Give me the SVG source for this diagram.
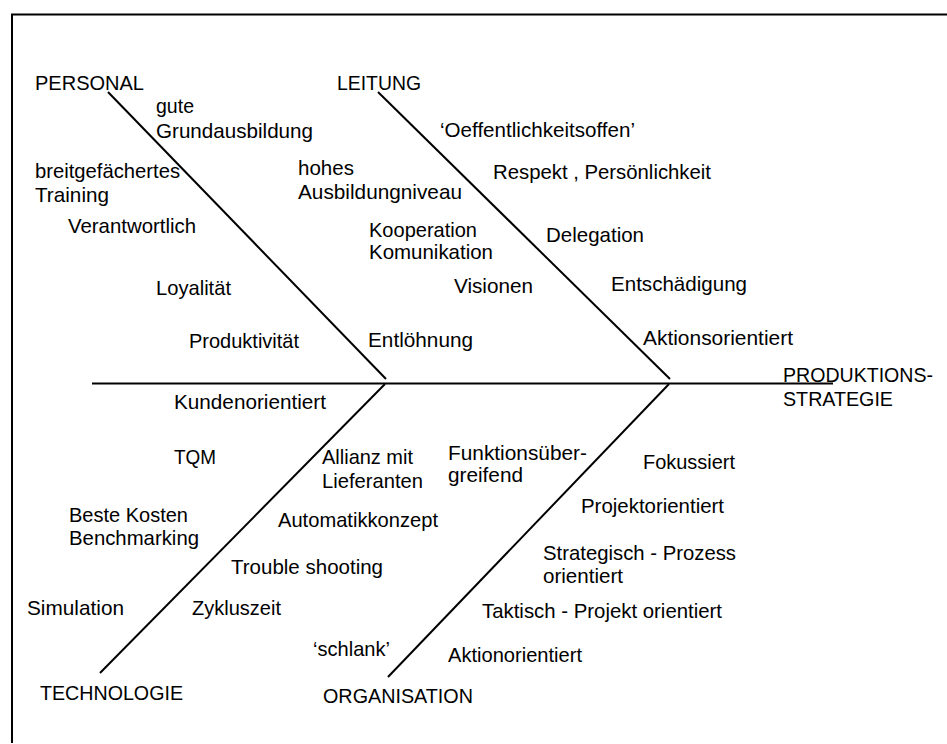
<svg xmlns="http://www.w3.org/2000/svg" width="947" height="744" viewBox="0 0 947 744">
<style>
text{font-family:"Liberation Sans",Arial,Helvetica,sans-serif;font-size:21px;fill:#000}
.ln{stroke:#000;stroke-width:2;fill:none;stroke-linecap:butt}
.fr{stroke:#000;stroke-width:2;fill:none}
</style>
<rect width="947" height="744" fill="#fff"/>
<g id="frame">
<line class="fr" x1="11" y1="14.5" x2="947" y2="14.5"/>
<line class="fr" x1="12" y1="14" x2="12" y2="743"/>
</g>
<g id="connectors">
<line class="ln" x1="92" y1="383.5" x2="833" y2="383.5"/>
<line class="ln" x1="108" y1="92" x2="386" y2="379"/>
<line class="ln" x1="378" y1="92" x2="670" y2="379"/>
<line class="ln" x1="385" y1="384" x2="100" y2="673"/>
<line class="ln" x1="669" y1="384" x2="388" y2="677"/>
</g>
<g id="personal"><text x="35" y="90" textLength="109" lengthAdjust="spacingAndGlyphs">PERSONAL</text></g>
<g id="leitung"><text x="337" y="90" textLength="84" lengthAdjust="spacingAndGlyphs">LEITUNG</text></g>
<g id="technologie"><text x="40" y="700" textLength="143" lengthAdjust="spacingAndGlyphs">TECHNOLOGIE</text></g>
<g id="organisation"><text x="323" y="703" textLength="150" lengthAdjust="spacingAndGlyphs">ORGANISATION</text></g>
<g id="produktionsstrategie"><text x="783" y="382" textLength="150" lengthAdjust="spacingAndGlyphs">PRODUKTIONS-</text><text x="783" y="406" textLength="110" lengthAdjust="spacingAndGlyphs">STRATEGIE</text></g>
<g id="gute-grundausbildung"><text x="156" y="113" textLength="38" lengthAdjust="spacingAndGlyphs">gute</text><text x="156" y="138" textLength="157" lengthAdjust="spacingAndGlyphs">Grundausbildung</text></g>
<g id="breitgefaechertes-training"><text x="35" y="178" textLength="145" lengthAdjust="spacingAndGlyphs">breitgefächertes</text><text x="35" y="202" textLength="74" lengthAdjust="spacingAndGlyphs">Training</text></g>
<g id="verantwortlich"><text x="68" y="233" textLength="128" lengthAdjust="spacingAndGlyphs">Verantwortlich</text></g>
<g id="loyalitaet"><text x="156" y="295" textLength="75" lengthAdjust="spacingAndGlyphs">Loyalität</text></g>
<g id="produktivitaet"><text x="189" y="348" textLength="110" lengthAdjust="spacingAndGlyphs">Produktivität</text></g>
<g id="hohes-ausbildungniveau"><text x="298" y="175" textLength="56" lengthAdjust="spacingAndGlyphs">hohes</text><text x="298" y="199" textLength="164" lengthAdjust="spacingAndGlyphs">Ausbildungniveau</text></g>
<g id="kooperation-komunikation"><text x="369" y="237" textLength="108" lengthAdjust="spacingAndGlyphs">Kooperation</text><text x="369" y="259" textLength="124" lengthAdjust="spacingAndGlyphs">Komunikation</text></g>
<g id="visionen"><text x="454" y="293" textLength="79" lengthAdjust="spacingAndGlyphs">Visionen</text></g>
<g id="entloehnung"><text x="368" y="347" textLength="105" lengthAdjust="spacingAndGlyphs">Entlöhnung</text></g>
<g id="oeffentlichkeitsoffen"><text x="440" y="137" textLength="195" lengthAdjust="spacingAndGlyphs">‘Oeffentlichkeitsoffen’</text></g>
<g id="respekt-persoenlichkeit"><text x="493" y="179" textLength="218" lengthAdjust="spacingAndGlyphs">Respekt , Persönlichkeit</text></g>
<g id="delegation"><text x="546" y="242" textLength="98" lengthAdjust="spacingAndGlyphs">Delegation</text></g>
<g id="entschaedigung"><text x="611" y="291" textLength="136" lengthAdjust="spacingAndGlyphs">Entschädigung</text></g>
<g id="aktionsorientiert"><text x="643" y="345" textLength="150" lengthAdjust="spacingAndGlyphs">Aktionsorientiert</text></g>
<g id="kundenorientiert"><text x="174" y="409" textLength="152" lengthAdjust="spacingAndGlyphs">Kundenorientiert</text></g>
<g id="tqm"><text x="174" y="464" textLength="42" lengthAdjust="spacingAndGlyphs">TQM</text></g>
<g id="beste-kosten-benchmarking"><text x="69" y="522" textLength="119" lengthAdjust="spacingAndGlyphs">Beste Kosten</text><text x="69" y="545" textLength="130" lengthAdjust="spacingAndGlyphs">Benchmarking</text></g>
<g id="simulation"><text x="27" y="615" textLength="97" lengthAdjust="spacingAndGlyphs">Simulation</text></g>
<g id="allianz-lieferanten"><text x="322" y="464" textLength="91" lengthAdjust="spacingAndGlyphs">Allianz mit</text><text x="322" y="488" textLength="101" lengthAdjust="spacingAndGlyphs">Lieferanten</text></g>
<g id="automatikkonzept"><text x="278" y="527" textLength="160" lengthAdjust="spacingAndGlyphs">Automatikkonzept</text></g>
<g id="trouble-shooting"><text x="231" y="574" textLength="152" lengthAdjust="spacingAndGlyphs">Trouble shooting</text></g>
<g id="zykluszeit"><text x="192" y="615" textLength="89" lengthAdjust="spacingAndGlyphs">Zykluszeit</text></g>
<g id="funktionsuebergreifend"><text x="448" y="460" textLength="139" lengthAdjust="spacingAndGlyphs">Funktionsüber-</text><text x="448" y="482" textLength="75" lengthAdjust="spacingAndGlyphs">greifend</text></g>
<g id="schlank"><text x="313" y="656" textLength="77" lengthAdjust="spacingAndGlyphs">‘schlank’</text></g>
<g id="fokussiert"><text x="643" y="469" textLength="92" lengthAdjust="spacingAndGlyphs">Fokussiert</text></g>
<g id="projektorientiert"><text x="581" y="513" textLength="143" lengthAdjust="spacingAndGlyphs">Projektorientiert</text></g>
<g id="strategisch-prozess"><text x="543" y="560" textLength="193" lengthAdjust="spacingAndGlyphs">Strategisch - Prozess</text><text x="543" y="583" textLength="80" lengthAdjust="spacingAndGlyphs">orientiert</text></g>
<g id="taktisch-projekt"><text x="482" y="618" textLength="240" lengthAdjust="spacingAndGlyphs">Taktisch - Projekt orientiert</text></g>
<g id="aktionorientiert"><text x="448" y="662" textLength="134" lengthAdjust="spacingAndGlyphs">Aktionorientiert</text></g>
</svg>
